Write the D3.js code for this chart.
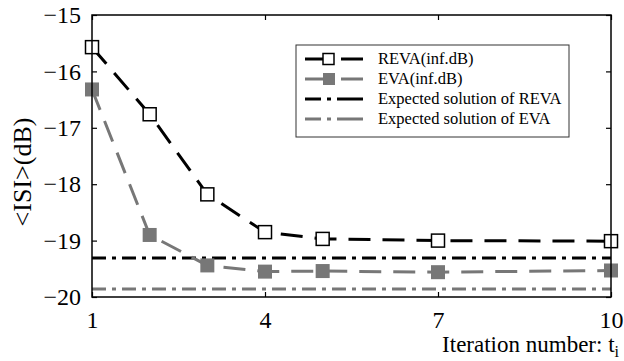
<!DOCTYPE html>
<html lang="en">
<head>
<meta charset="UTF-8">
<title>ISI vs iteration</title>
<script src="https://d3js.org/d3.v7.min.js"></script>
<style>
  body { margin: 0; background: #fff; }
  text { font-family: "Liberation Serif", "Times New Roman", serif; }
</style>
</head>
<body>
<script>
// data
var iterations = [1, 2, 3, 4, 5, 7, 10];
var revaValues = [-15.57, -16.76, -18.18, -18.85, -18.97, -19.0, -19.01];
var evaValues  = [-16.32, -18.90, -19.44, -19.55, -19.54, -19.56, -19.53];
var expectedReva = -19.31;
var expectedEva = -19.86;
var xTicks = [1, 4, 7, 10];
var yTicks = [-20, -19, -18, -17, -16, -15];
var legendLabels = ["REVA(inf.dB)", "EVA(inf.dB)", "Expected solution of REVA", "Expected solution of EVA"];

var margin = {top: 15, right: 13, bottom: 64, left: 92},
    width = 624 - margin.left - margin.right,
    height = 361 - margin.top - margin.bottom;

var gray = "#777777";

var svg = d3.select("body").append("svg")
    .attr("width", 624)
    .attr("height", 361);

var g = svg.append("g")
    .attr("transform", "translate(" + margin.left + "," + margin.top + ")");

var x = d3.scaleLinear().domain([1, 10]).range([0, width]);
var y = d3.scaleLinear().domain([-20, -15]).range([height, 0]);

// ticks pointing inward on all four sides
g.append("g")
    .attr("transform", "translate(0," + height + ")")
    .call(d3.axisBottom(x).tickValues(xTicks).tickSize(-5).tickPadding(14).tickFormat(d3.format("d")))
    .call(a => a.select(".domain").remove())
    .selectAll("text").style("font-size", "24px").attr("fill", "#000");
g.append("g")
    .call(d3.axisTop(x).tickValues(xTicks).tickSize(-5).tickFormat(""))
    .call(a => a.select(".domain").remove());
g.append("g")
    .call(d3.axisLeft(y).tickValues(yTicks).tickSize(-5).tickPadding(11).tickFormat(d3.format("d")))
    .call(a => a.select(".domain").remove())
    .selectAll("text").style("font-size", "24px").attr("fill", "#000");
g.append("g")
    .attr("transform", "translate(" + width + ",0)")
    .call(d3.axisRight(y).tickValues(yTicks).tickSize(-5).tickFormat(""))
    .call(a => a.select(".domain").remove());
g.selectAll(".tick line").attr("stroke", "#000").attr("stroke-width", 1.2);

// reference lines
g.append("line")
    .attr("x1", 0).attr("x2", width)
    .attr("y1", y(expectedReva)).attr("y2", y(expectedReva))
    .attr("stroke", "#000").attr("stroke-width", 3)
    .attr("stroke-dasharray", "14,6,4,6");
g.append("line")
    .attr("x1", 0).attr("x2", width)
    .attr("y1", y(expectedEva)).attr("y2", y(expectedEva))
    .attr("stroke", gray).attr("stroke-width", 3)
    .attr("stroke-dasharray", "14,6,4,6");

var line = d3.line()
    .x((d, i) => x(iterations[i]))
    .y(d => y(d));

// EVA series
g.append("path")
    .datum(evaValues)
    .attr("d", line)
    .attr("fill", "none")
    .attr("stroke", gray)
    .attr("stroke-width", 3)
    .attr("stroke-dasharray", "22,12");

// REVA series
g.append("path")
    .datum(revaValues)
    .attr("d", line)
    .attr("fill", "none")
    .attr("stroke", "#000")
    .attr("stroke-width", 3)
    .attr("stroke-dasharray", "22,12");

g.selectAll(".eva-pt")
    .data(evaValues)
    .enter().append("rect")
    .attr("class", "eva-pt")
    .attr("x", (d, i) => x(iterations[i]) - 7)
    .attr("y", d => y(d) - 7)
    .attr("width", 14).attr("height", 14)
    .attr("fill", gray);

g.selectAll(".reva-pt")
    .data(revaValues)
    .enter().append("rect")
    .attr("class", "reva-pt")
    .attr("x", (d, i) => x(iterations[i]) - 6.5)
    .attr("y", d => y(d) - 6.5)
    .attr("width", 13).attr("height", 13)
    .attr("fill", "#fff")
    .attr("stroke", "#000")
    .attr("stroke-width", 1.5);

// frame
g.append("rect")
    .attr("x", 0).attr("y", 0)
    .attr("width", width).attr("height", height)
    .attr("fill", "none")
    .attr("stroke", "#000")
    .attr("stroke-width", 1.5);

// axis labels
svg.append("text")
    .attr("x", 619)
    .attr("y", 352)
    .attr("text-anchor", "end")
    .style("font-size", "23px")
    .text("Iteration number: t")
    .append("tspan")
    .attr("dy", 5)
    .style("font-size", "16px")
    .text("i");

svg.append("text")
    .attr("transform", "translate(31," + (margin.top + height / 2 + 16) + ") rotate(-90)")
    .attr("text-anchor", "middle")
    .style("font-size", "26px")
    .text("<ISI>(dB)");

// legend
var legend = svg.append("g").attr("transform", "translate(296,45)");
legend.append("rect")
    .attr("width", 273).attr("height", 92)
    .attr("fill", "#fff")
    .attr("stroke", "#333")
    .attr("stroke-width", 1);

var legendStyles = [
    {color: "#000", dash: "22,12", marker: "open"},
    {color: gray, dash: "22,12", marker: "filled"},
    {color: "#000", dash: "14,6,4,6", marker: null},
    {color: gray, dash: "14,6,4,6", marker: null}
];

legendLabels.forEach(function(label, i) {
    var ly = 14 + i * 20;
    var s = legendStyles[i];
    legend.append("line")
        .attr("x1", 9).attr("x2", 67)
        .attr("y1", ly).attr("y2", ly)
        .attr("stroke", s.color).attr("stroke-width", 3)
        .attr("stroke-dasharray", s.marker ? "29,7,22" : "16,6,4,6,30");
    if (s.marker === "open") {
        legend.append("rect")
            .attr("x", 27).attr("y", ly - 5.5)
            .attr("width", 11).attr("height", 11)
            .attr("fill", "#fff").attr("stroke", "#000").attr("stroke-width", 1.5);
    } else if (s.marker === "filled") {
        legend.append("rect")
            .attr("x", 27).attr("y", ly - 6)
            .attr("width", 12).attr("height", 12)
            .attr("fill", gray);
    }
    legend.append("text")
        .attr("x", 82)
        .attr("y", ly + 5)
        .style("font-size", "16.5px")
        .text(label);
});
</script>
</body>
</html>
